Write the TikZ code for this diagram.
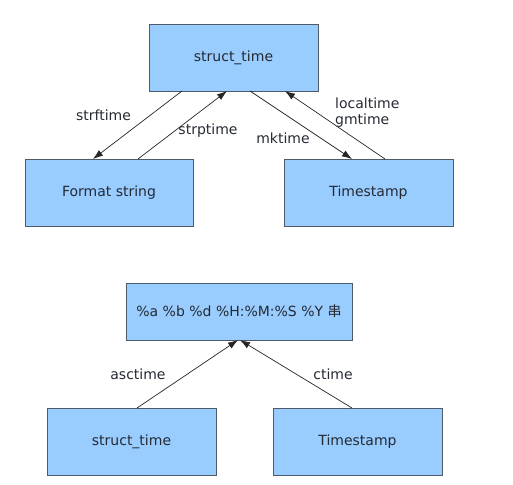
\documentclass[tikz,border=0pt]{standalone}
\usepackage{fontspec}
\setmainfont{DejaVu Sans}
\newfontfamily\cjk{Noto Sans CJK SC}
\usetikzlibrary{arrows.meta}
\definecolor{boxfill}{HTML}{99CCFF}
\definecolor{boxline}{HTML}{4F5B68}
\definecolor{txt}{HTML}{252A33}
\tikzset{
  box/.style={draw=boxline, line width=0.9pt, fill=boxfill, text=txt, inner sep=0pt,
    font=\fontsize{14}{17}\selectfont},
  conn/.style={draw=black!85, line width=0.7pt, -{Latex[length=10pt,width=7pt]}},
  lbl/.style={text=txt, font=\fontsize{14}{17}\selectfont, inner sep=0pt}
}
\begin{document}
\begin{tikzpicture}[x=1pt,y=-1pt]
\useasboundingbox (0,0) rectangle (513,484);
\node[box, minimum width=169pt, minimum height=67pt] (st) at (233.5,57.5) {struct\_time};
\node[box, minimum width=168pt, minimum height=67pt] (fs) at (109,192.5) {Format string};
\node[box, minimum width=169pt, minimum height=67pt] (ts) at (368.5,192.5) {Timestamp};
\node[box, minimum width=226pt, minimum height=57pt] (fmt) at (239,311.5) {\%a \%b \%d \%H:\%M:\%S \%Y {\cjk 串}};
\node[box, minimum width=169pt, minimum height=67pt] (st2) at (131.5,441.5) {struct\_time};
\node[box, minimum width=169pt, minimum height=67pt] (ts2) at (357.5,441.5) {Timestamp};

\coordinate (a1) at (182,91);
\coordinate (a2) at (93,159);
\draw[conn] (a1) -- (a2);
\coordinate (b1) at (138,159);
\coordinate (b2) at (227,91);
\draw[conn] (b1) -- (b2);
\coordinate (c1) at (250,91);
\coordinate (c2) at (352,159);
\draw[conn] (c1) -- (c2);
\coordinate (d1) at (385,159);
\coordinate (d2) at (285,91);
\draw[conn] (d1) -- (d2);
\coordinate (e1) at (137,408);
\coordinate (e2) at (238,340);
\draw[conn] (e1) -- (e2);
\coordinate (f1) at (352,408);
\coordinate (f2) at (240,340);
\draw[conn] (f1) -- (f2);

\node[lbl] (l1) at (103.5,115) {strftime};
\node[lbl] (l2) at (208,131) {strptime};
\node[lbl] (l3) at (283,138) {mktime};
\node[lbl, anchor=west] (l4) at (335,103) {localtime};
\node[lbl, anchor=west] (l5) at (335,121) {gmtime};
\node[lbl] (l6) at (138,374) {asctime};
\node[lbl] (l7) at (333,374) {ctime};
\end{tikzpicture}
\end{document}
